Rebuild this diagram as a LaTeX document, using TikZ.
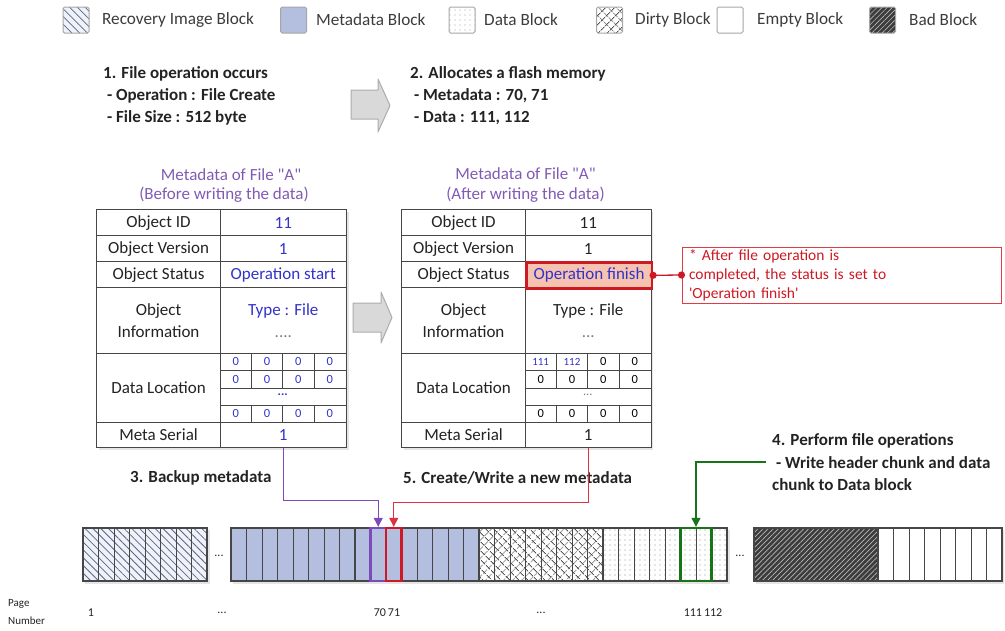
\documentclass[tikz,border=0pt]{standalone}
\usepackage{fontspec}
\setmainfont{Carlito}
\newfontfamily\cf{Carlito}
\usetikzlibrary{patterns.meta,arrows.meta,calc}
\definecolor{tbl}{RGB}{70,70,70}
\definecolor{txt}{RGB}{35,35,35}
\definecolor{val}{RGB}{50,50,205}
\definecolor{ttl}{RGB}{130,90,180}
\definecolor{metaC}{RGB}{180,191,224}
\definecolor{recbg}{RGB}{240,242,250}
\definecolor{recln}{RGB}{90,100,130}
\definecolor{dirtyln}{RGB}{85,85,85}
\definecolor{badbg}{RGB}{60,60,60}
\definecolor{redc}{RGB}{205,25,35}
\definecolor{callc}{RGB}{225,60,70}
\definecolor{peach}{RGB}{245,195,175}
\definecolor{grn}{RGB}{25,115,25}
\definecolor{pur}{RGB}{125,75,185}
\definecolor{rline}{RGB}{220,50,70}
\definecolor{legtxt}{RGB}{60,60,60}
\newcommand\ftab{\fontsize{17}{22}\selectfont}
\newcommand\fstep{\fontsize{17}{21}\selectfont\bfseries}
\newcommand\fleg{\fontsize{17.2}{20}\selectfont}
\newcommand\fnum{\fontsize{12.5}{14}\selectfont}
\newcommand\fsml{\fontsize{11}{13}\selectfont}
\newcommand\fcall{\fontsize{15.5}{19}\selectfont}
\newcommand\fpg{\fontsize{12}{15}\selectfont}
\newcommand\fpgs{\fontsize{11}{14}\selectfont}
\begin{document}
\begin{tikzpicture}[x=1pt,y=-1pt,
  lbl/.style={draw=tbl, line width=1.1pt, anchor=north west, inner sep=0pt, minimum width=124pt, text=txt, font=\ftab, align=center},
  vlc/.style={lbl, minimum width=125.5pt},
  num/.style={inner sep=0pt, font=\fnum},
  ttlt/.style={text=ttl, font=\cf\ftab, inner sep=0pt},
  stept/.style={anchor=west, inner sep=0pt, font=\fstep, text=txt},
  leg/.style={minimum width=26pt, minimum height=26pt, inner sep=0pt, draw=gray!70, line width=1pt, rounded corners=1.5pt},
  legt/.style={anchor=west, inner sep=0pt, font=\fleg, text=legtxt},
  cellln/.style={draw=tbl, line width=0.9pt},
  blockln/.style={draw=tbl, line width=1.8pt},
  stripbd/.style={draw=tbl, line width=2.2pt},
  shadow/.style={fill=black!10},
  hl/.style={minimum width=15.5pt, minimum height=53pt, inner sep=0pt, line width=2.4pt},
  conn/.style={line width=1.2pt, -{Triangle[width=9pt,length=9pt]}},
  bigarrow/.style={fill=gray!30, draw=gray!65, line width=1pt, line join=round},
  pgt/.style={inner sep=0pt, font=\fpg, text=txt}
]
\useasboundingbox (0,0) rectangle (1005,630);

% ---------------- legend ----------------
\node[leg, preaction={fill=recbg}, pattern={Lines[angle=-45,distance=5.5pt,line width=0.7pt]}, pattern color=recln] (lgRec) at (76,20) {};
\node[legt] (lgRecT) at (102,20) {Recovery Image Block};
\node[leg, fill=metaC] (lgMeta) at (293.5,20) {};
\node[legt] (lgMetaT) at (316,20) {Metadata Block};
\node[leg, preaction={fill=white}, pattern={Dots[distance=5pt,radius=0.6pt]}, pattern color=gray!70] (lgData) at (462,20) {};
\node[legt] (lgDataT) at (484,20) {Data Block};
\node[leg, preaction={fill=white}, preaction={pattern={Lines[angle=45,distance=6.5pt,line width=0.8pt]}, pattern color=dirtyln}, pattern={Lines[angle=-45,distance=6.5pt,line width=0.8pt]}, pattern color=dirtyln] (lgDirty) at (609.5,20) {};
\node[legt] (lgDirtyT) at (635,20) {Dirty Block};
\node[leg, fill=white] (lgEmpty) at (730,20) {};
\node[legt] (lgEmptyT) at (757,20) {Empty Block};
\node[leg, preaction={fill=badbg}, pattern={Lines[angle=45,distance=3.6pt,line width=0.6pt]}, pattern color=gray!55] (lgBad) at (882.5,20) {};
\node[legt] (lgBadT) at (909,20) {Bad Block};

% ---------------- step 1 and 2 ----------------
\node[stept] (s1a) at (103,74) {1. File operation occurs};
\node[stept] (s1b) at (103,96) {\ - Operation : File Create};
\node[stept] (s1c) at (103,118) {\ - File Size : 512 byte};
\filldraw[bigarrow] (351,90) -- (378,90) -- (378,79) -- (390,105.5) -- (378,132) -- (378,119) -- (351,119) -- cycle;
\node[stept] (s2a) at (410,74) {2. Allocates a flash memory};
\node[stept] (s2b) at (410,96) {\ - Metadata : 70, 71};
\node[stept] (s2c) at (410,118) {\ - Data : 111, 112};

% ---------------- left table ----------------
\fill[shadow] (98.5,211.5) rectangle (348.5,449.5);
\node[ttlt] (LT1) at (231,175) {Metadata of File "A"};
\node[ttlt] (LT2) at (224,195) {(Before writing the data)};
\node[lbl, minimum height=26pt, fill=white] (LidK) at (96,209) {Object ID};
\node[vlc, minimum height=26pt, fill=white, text=val] (LidV) at (220,209) {11};
\node[lbl, minimum height=26pt, fill=white] (LverK) at (96,235) {Object Version};
\node[vlc, minimum height=26pt, fill=white, text=val] (LverV) at (220,235) {1};
\node[lbl, minimum height=26pt, fill=white] (LstK) at (96,261) {Object Status};
\node[vlc, minimum height=26pt, fill=white, text=val] (LstV) at (220,261) {Operation start};
\node[lbl, minimum height=66pt, fill=white] (LinfK) at (96,287) {Object\\Information};
\node[vlc, minimum height=66pt, fill=white, text=val] (LinfV) at (220,287) {Type : File\\{\color{gray}....}};
\node[lbl, minimum height=69pt, fill=white] (LlocK) at (96,353) {Data Location};
\node[vlc, minimum height=69pt, fill=white] (LlocV) at (220,353) {};
\node[lbl, minimum height=25pt, fill=white] (LserK) at (96,422) {Meta Serial};
\node[vlc, minimum height=25pt, fill=white, text=val] (LserV) at (220,422) {1};
\foreach \yy in {370.5,388,405} \draw[tbl, line width=1pt] (220,\yy) -- (345.5,\yy);
\foreach \xx in {251.4,282.75,314.1} {
  \draw[tbl, line width=1pt] (\xx,353) -- (\xx,388);
  \draw[tbl, line width=1pt] (\xx,405) -- (\xx,422);
}
\foreach \xx [count=\i] in {235.7,267,298.4,329.8}
  \foreach \yy [count=\j] in {361.75,379.25,413.5}
    \node[num, text=val] (Lg\i\j) at (\xx,\yy) {0};
\node[num, text=val, font=\fnum\bfseries] (Ldots) at (282.75,395) {...};

% ---------------- arrow between tables ----------------
\filldraw[bigarrow] (353,303) -- (381,303) -- (381,292) -- (392,317.5) -- (381,343) -- (381,332) -- (353,332) -- cycle;

% ---------------- right table ----------------
\fill[shadow] (403.5,211.5) rectangle (653,449.5);
\node[ttlt] (RT1) at (525.5,174) {Metadata of File "A"};
\node[ttlt] (RT2) at (525.5,195) {(After writing the data)};
\node[lbl, minimum height=26pt, fill=white] (RidK) at (401,209) {Object ID};
\node[vlc, minimum height=26pt, fill=white] (RidV) at (525,209) {11};
\node[lbl, minimum height=26pt, fill=white] (RverK) at (401,235) {Object Version};
\node[vlc, minimum height=26pt, fill=white] (RverV) at (525,235) {1};
\node[lbl, minimum height=26pt, fill=white] (RstK) at (401,261) {Object Status};
\node[lbl, minimum height=66pt, fill=white] (RinfK) at (401,287) {Object\\Information};
\node[vlc, minimum height=66pt, fill=white] (RinfV) at (525,287) {Type : File\\{\color{gray}...}};
\node[lbl, minimum height=69pt, fill=white] (RlocK) at (401,353) {Data Location};
\node[vlc, minimum height=69pt, fill=white] (RlocV) at (525,353) {};
\node[lbl, minimum height=25pt, fill=white] (RserK) at (401,422) {Meta Serial};
\node[vlc, minimum height=25pt, fill=white] (RserV) at (525,422) {1};
\node[vlc, minimum height=26pt, fill=peach, draw=redc, line width=2.6pt, text=val] (RstV) at (525,261) {Operation finish};
\foreach \yy in {370.5,388,405} \draw[tbl, line width=1pt] (525,\yy) -- (650.5,\yy);
\foreach \xx in {556.4,587.75,619.1} {
  \draw[tbl, line width=1pt] (\xx,353) -- (\xx,388);
  \draw[tbl, line width=1pt] (\xx,405) -- (\xx,422);
}
\node[num, text=val, font=\fsml] (Rg11) at (540.7,361.75) {111};
\node[num, text=val, font=\fsml] (Rg21) at (572,361.75) {112};
\node[num] (Rg31) at (603.4,361.75) {0};
\node[num] (Rg41) at (634.8,361.75) {0};
\foreach \xx [count=\i] in {540.7,572,603.4,634.8}
  \foreach \yy [count=\j from 2] in {379.25,413.5}
    \node[num] (Rg\i\j) at (\xx,\yy) {0};
\node[num, text=gray] (Rdots) at (587.75,395) {...};

% ---------------- callout ----------------
\node[draw=callc, line width=1pt, text=redc, font=\cf\fcall, align=left, text width=305pt, inner xsep=7pt, inner ysep=1.5pt, minimum height=56pt] (call) at (841.5,275) {* After file operation is\\completed, the status is set to\\'Operation finish'};
\draw[redc, line width=1.3pt] (RstV.east) -- (call.west);
\fill[redc] (RstV.east) circle (3.6);
\fill[redc] (call.west) circle (3.6);

% ---------------- flash strip ----------------
\fill[shadow] (85,530) rectangle (209.5,583.5);
\fill[shadow] (233,530) rectangle (729.5,583.5);
\fill[shadow] (756,530) rectangle (1004,583.5);
% segment A: recovery image
\fill[recbg] (83,528) rectangle (207,581);
\fill[pattern={Lines[angle=-45,distance=5.5pt,line width=0.8pt]}, pattern color=recln] (83,528) rectangle (207,581);
\foreach \i in {1,...,7} \draw[cellln] ({83+15.5*\i},528) -- ({83+15.5*\i},581);
\draw[stripbd] (83,528) rectangle (207,581);
\node[pgt] (gap1) at (219,556) {...};
% segment B: metadata, dirty, data
\fill[metaC] (231,528) rectangle (479,581);
\fill[white] (479,528) rectangle (727,581);
\fill[pattern={Lines[angle=45,distance=6.5pt,line width=0.8pt]}, pattern color=dirtyln] (479,528) rectangle (603,581);
\fill[pattern={Lines[angle=-45,distance=6.5pt,line width=0.8pt]}, pattern color=dirtyln] (479,528) rectangle (603,581);
\fill[pattern={Dots[distance=5pt,radius=0.7pt]}, pattern color=gray!85] (603,528) rectangle (727,581);
\foreach \i in {1,...,31} \draw[cellln] ({231+15.5*\i},528) -- ({231+15.5*\i},581);
\foreach \i in {8,16,24} \draw[blockln] ({231+15.5*\i},528) -- ({231+15.5*\i},581);
\draw[stripbd] (231,528) rectangle (727,581);
\node[pgt] (gap2) at (740,556) {...};
% segment C: bad, empty
\fill[badbg] (754,528) rectangle (878,581);
\fill[pattern={Lines[angle=45,distance=3.6pt,line width=0.7pt]}, pattern color=gray!55] (754,528) rectangle (878,581);
\fill[white] (878,528) rectangle (1002,581);
\foreach \i in {1,...,7} \draw[cellln] ({878+15.5*\i},528) -- ({878+15.5*\i},581);
\draw[blockln] (878,528) -- (878,581);
\draw[stripbd] (754,528) rectangle (1002,581);
% highlighted pages
\node[hl, draw=pur] (p70) at (378.25,554.5) {};
\node[hl, draw=redc] (p71) at (393.75,554.5) {};
\node[hl, draw=grn, minimum width=31pt] (gbox) at (696,554.5) {};

% ---------------- step labels 3,4,5 ----------------
\node[stept] (s3) at (130,478) {3. Backup metadata};
\node[stept] (s5) at (403,478) {5. Create/Write a new metadata};
\node[stept] (s4a) at (772,441) {4. Perform file operations};
\node[stept] (s4b) at (772,463) {\ - Write header chunk and data};
\node[stept] (s4c) at (772,485) {chunk to Data block};
\coordinate (g0) at (766,462);

% ---------------- connectors ----------------
\draw[conn, pur] (LserV.south) -- ++(0,52) -| (p70.north);
\draw[conn, rline] (RserV.south) -- ++(0,54) -| (p71.north);
\draw[conn, grn] (g0) -| (gbox.north);

% ---------------- page numbers ----------------
\node[pgt, anchor=west, font=\fpgs] (pgA) at (8,604) {Page};
\node[pgt, anchor=west, font=\fpgs] (pgB) at (8,621) {Number};
\node[pgt] (n1) at (91,613) {1};
\node[pgt] (nd1) at (222,613) {...};
\node[pgt] (n70) at (387,613) {70\,71};
\node[pgt] (nd2) at (541,613) {...};
\node[pgt] (n111) at (703,613) {111\,112};
\end{tikzpicture}
\end{document}
